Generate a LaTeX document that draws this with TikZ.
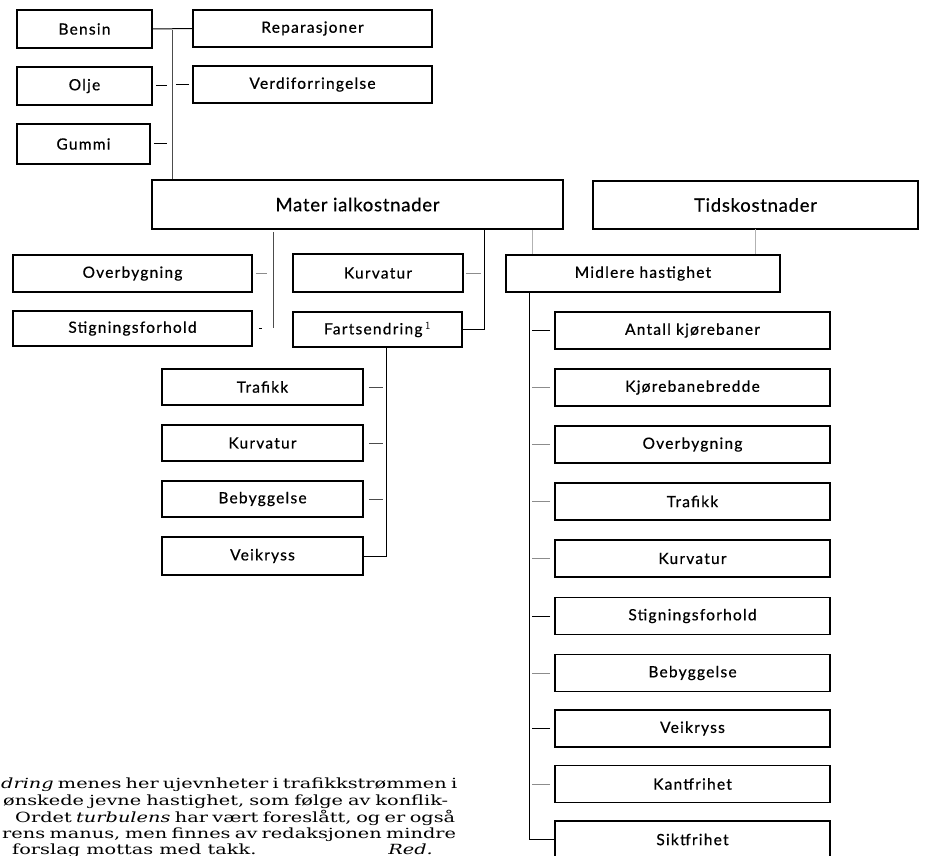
\documentclass[tikz,border=0pt]{standalone}
\usepackage{fontspec}
\setmainfont{Lato}[LetterSpace=8, FakeBold=0.6]
\newfontfamily\notefont[FakeStretch=1.38]{DejaVu Serif}
\begin{document}
\begin{tikzpicture}[x=1pt,y=-1pt,
  box/.style={draw, line width=1.6pt, inner sep=0pt, font=\fontsize{15.5}{17}\selectfont},
  bigbox/.style={box, font=\fontsize{18.5}{21}\selectfont\addfontfeatures{LetterSpace=4}},
  conn/.style={line width=1pt, black},
  thin/.style={line width=0.8pt, black!45},
  note/.style={inner sep=0pt, font=\notefont\fontsize{14}{16}\selectfont}]
\useasboundingbox (0,0) rectangle (927,856);
\clip (0,0) rectangle (927,856);
% top left group
\node[box, minimum width=135pt, minimum height=38pt] (bensin) at (84.5,29) {Bensin};
\node[box, minimum width=135pt, minimum height=38pt] (olje) at (84.5,86) {Olje};
\node[box, minimum width=133pt, minimum height=40pt] (gummi) at (83.5,144) {Gummi};
\node[box, minimum width=239pt, minimum height=37pt] (repar) at (312.5,28.5) {Reparasjoner};
\node[box, minimum width=239pt, minimum height=37pt] (verdi) at (312.5,84.5) {Verdiforringelse};
% main boxes
\node[bigbox, minimum width=411pt, minimum height=49pt] (mat) at (357.5,204.5) {Mater ialkostnader};
\node[bigbox, minimum width=325pt, minimum height=48pt] (tid) at (755.5,205) {Tidskostnader};
% second level
\node[box, minimum width=239pt, minimum height=37pt] (overL) at (132.5,273.5) {Overbygning};
\node[box, minimum width=239pt, minimum height=35pt] (stigL) at (132.5,328.5) {Stigningsforhold};
\node[box, minimum width=170pt, minimum height=38pt] (kurvM) at (378,273) {Kurvatur};
\node[box, minimum width=169pt, minimum height=35pt] (farts) at (377.5,329.5) {Fartsendring\,$^{\mathsf{1}}$};
\node[box, minimum width=274pt, minimum height=37pt] (midl) at (643,273.5) {Midlere hastighet};
% Fartsendring children
\node[box, minimum width=201pt, minimum height=36pt] (trafL) at (262.5,387) {Trafikk};
\node[box, minimum width=201pt, minimum height=36pt] (kurvL) at (262.5,443) {Kurvatur};
\node[box, minimum width=201pt, minimum height=36pt] (bebyL) at (262.5,499) {Bebyggelse};
\node[box, minimum width=201pt, minimum height=38pt] (veikL) at (262.5,556) {Veikryss};
% right column
\foreach \i/\t/\y in {1/Antall kjørebaner/330.5, 2/Kjørebanebredde/387.5, 3/Overbygning/444.5,
  4/Trafikk/501.5, 5/Kurvatur/558.5, 6/Stigningsforhold/616, 7/Bebyggelse/673,
  8/Veikryss/728.5, 9/Kantfrihet/784, 10/Siktfrihet/839.5}
  \node[box, minimum width=275pt, minimum height=37pt] (r\i) at (692.5,\y) {\t};
% connectors top-left
\draw[conn] (bensin.east) -- (repar.west);
\coordinate (vtop) at (172,30);
\draw[thin, black!70] (vtop) -- (vtop |- mat.north);
\draw[conn] ([xshift=3pt]olje.east) -- ++(11,0);
\draw[conn] ([xshift=-3pt]verdi.west) -- ++(-13,0);
\draw[conn] ([xshift=3pt]gummi.east) -- ++(13,0);
% from Materialkostnader
\coordinate (m1) at (273,232);
\draw[thin, black!70] (m1) -- ++(0,96);
\draw[thin] ([xshift=3pt]overL.east) -- ++(11,0);
\draw[conn] ([xshift=6pt]stigL.east) -- ++(3,0);
\coordinate (m2) at (484,230);
\draw[conn] (m2) |- (farts.east);
\draw[thin] ([xshift=2pt]kurvM.east) -- ++(15,0);
\coordinate (m3) at (532,230);
\draw[thin, black!30] (m3) -- (m3 |- midl.north);
\coordinate (t1) at (755,229);
\draw[thin, black!30] (t1) -- (t1 |- midl.north);
% Fartsendring branch
\coordinate (fv) at (386,347);
\draw[conn] (fv) |- (veikL.east);
\foreach \n in {trafL,kurvL,bebyL}
  \draw[thin, black!70] ([xshift=5pt]\n.east) -- ++(14,0);
% Midlere hastighet branch
\coordinate (mv) at (529,292);
\draw[conn] (mv) |- (r10.west);
\foreach \i in {1,6,8}
  \draw[conn] ([xshift=-4pt]r\i.west) -- ++(-18,0);
\foreach \i in {2,3,4,5,7,9}
  \draw[thin] ([xshift=-4pt]r\i.west) -- ++(-18,0);
% footnote
\node[note, anchor=base west] (n1) at (1,788) {\makebox[456pt][s]{\textit{dring} menes her ujevnheter i trafikkstrømmen i}};
\node[note, anchor=base west] (n2) at (3,805) {\makebox[445pt][s]{ønskede jevne hastighet, som følge av konflik-}};
\node[note, anchor=base west] (n3) at (15,822) {\makebox[440pt][s]{Ordet \textit{turbulens} har vært foreslått, og er også}};
\node[note, anchor=base west] (n4) at (2,838) {\makebox[454pt][s]{rens manus, men finnes av redaksjonen mindre}};
\node[note, anchor=base west] (n5) at (12,854) {forslag mottas med takk.};
\node[note, anchor=base east] (n6) at (433,854) {\textit{Red.}};
\end{tikzpicture}
\end{document}
